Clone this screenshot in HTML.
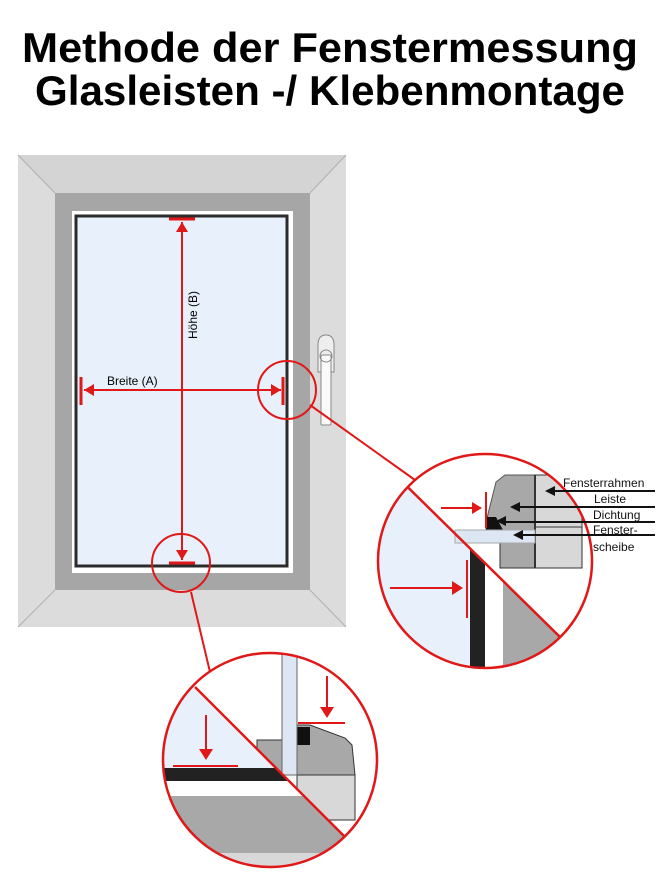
<!DOCTYPE html>
<html><head><meta charset="utf-8"><style>
html,body{margin:0;padding:0;background:#fff;}
svg{display:block;}
</style></head><body>
<svg width="661" height="889" viewBox="0 0 661 889" xmlns="http://www.w3.org/2000/svg" font-family="Liberation Sans, Arial, sans-serif">
<defs>
<clipPath id="cR"><circle cx="485" cy="561" r="107"/></clipPath>
<clipPath id="cB"><circle cx="270" cy="760" r="107"/></clipPath>
<clipPath id="rL"><polygon points="300,381 660,735 300,735"/></clipPath>
<clipPath id="rU"><polygon points="300,381 660,735 660,381"/></clipPath>
<clipPath id="bL"><polygon points="100,592 400,892 100,892"/></clipPath>
<clipPath id="bU"><polygon points="100,592 400,892 400,592"/></clipPath>
</defs>
<text x="330" y="62" text-anchor="middle" font-size="42" font-weight="bold" textLength="616" lengthAdjust="spacingAndGlyphs">Methode der Fenstermessung</text>
<text x="330" y="105" text-anchor="middle" font-size="42" font-weight="bold" textLength="590" lengthAdjust="spacingAndGlyphs">Glasleisten -/ Klebenmontage</text>

<!-- window frame -->
<rect x="18" y="155" width="328" height="472" fill="#dcdcdc"/>
<polygon points="18,155 55,193 310,193 346,155" fill="#d4d4d4"/>
<line x1="18" y1="155" x2="55" y2="193" stroke="#b0b0b0"/>
<line x1="346" y1="155" x2="310" y2="193" stroke="#b0b0b0"/>
<line x1="18" y1="627" x2="55" y2="590" stroke="#b0b0b0"/>
<line x1="346" y1="627" x2="310" y2="590" stroke="#b0b0b0"/>
<rect x="55" y="193" width="255" height="397" fill="#a6a6a6"/>
<rect x="72" y="211" width="221" height="362" fill="#fff"/>
<rect x="76" y="216" width="211" height="350" fill="#e8f1fb" stroke="#2b2b2b" stroke-width="3"/>
<!-- handle -->
<path d="M318,372 L318,345 Q318,335 326,335 Q334,335 334,345 L334,372 Z" fill="#eee" stroke="#888"/>
<rect x="321" y="355" width="10" height="70" rx="1" fill="#fafafa" stroke="#888"/>
<circle cx="326" cy="356" r="6" fill="none" stroke="#888"/>

<!-- measurement lines -->
<g stroke="#e01818" fill="#e01818">
<line x1="182" y1="222" x2="182" y2="560" stroke-width="2"/>
<line x1="169" y1="219" x2="195" y2="219" stroke-width="3"/>
<line x1="169" y1="563" x2="195" y2="563" stroke-width="3"/>
<polygon points="182,222 176,232 188,232" stroke="none"/>
<polygon points="182,560 176,550 188,550" stroke="none"/>
<line x1="84" y1="390" x2="281" y2="390" stroke-width="2"/>
<line x1="81" y1="377" x2="81" y2="405" stroke-width="3"/>
<line x1="283" y1="377" x2="283" y2="405" stroke-width="3"/>
<polygon points="84,390 94,384 94,396" stroke="none"/>
<polygon points="281,390 271,384 271,396" stroke="none"/>
<circle cx="287" cy="390" r="29" fill="none" stroke-width="2"/>
<circle cx="181" cy="563" r="29" fill="none" stroke-width="2"/>
<line x1="310" y1="405" x2="415" y2="480" stroke-width="2"/>
<line x1="191" y1="592" x2="210" y2="672" stroke-width="2"/>
</g>
<text x="107" y="385" font-size="12">Breite (A)</text>
<text transform="translate(197,315) rotate(-90)" text-anchor="middle" font-size="12">Höhe (B)</text>

<!-- right detail circle -->
<g clip-path="url(#cR)">
<rect x="370" y="450" width="240" height="230" fill="#fff"/>
<g clip-path="url(#rL)">
<rect x="360" y="440" width="110" height="250" fill="#e8f1fb"/>
<rect x="470" y="540" width="15" height="150" fill="#222"/>
<rect x="485" y="540" width="18" height="150" fill="#fff"/>
<rect x="503" y="540" width="110" height="150" fill="#a8a8a8"/>
</g>
<g clip-path="url(#rU)">
<rect x="535" y="475" width="47" height="93" fill="#d8d8d8" stroke="#333"/>
<rect x="500" y="543" width="35" height="25" fill="#a8a8a8" stroke="#333"/>
<polygon points="486,522 496,482 505,475 535,475 535,530 486,530" fill="#a8a8a8" stroke="#555"/>
<line x1="535" y1="475" x2="535" y2="568" stroke="#333" stroke-width="2"/>
<line x1="535" y1="527" x2="582" y2="527" stroke="#333"/>
<polygon points="486,517 496,517 503,530 486,530" fill="#111"/>
</g>
<rect x="455" y="530" width="80" height="13" fill="#dce7f3" stroke="#aaa"/>
<line x1="370" y1="450" x2="560" y2="637" stroke="#e01818" stroke-width="2.5"/>
</g>
<circle cx="485" cy="561" r="107" fill="none" stroke="#e01818" stroke-width="2.5"/>
<g stroke="#e01818" fill="#e01818">
<line x1="486" y1="492" x2="486" y2="528" stroke-width="2"/>
<line x1="441" y1="508" x2="474" y2="508" stroke-width="2"/>
<polygon points="482,508 472,502 472,514" stroke="none"/>
<line x1="467" y1="560" x2="467" y2="618" stroke-width="2"/>
<line x1="390" y1="588" x2="454" y2="588" stroke-width="2"/>
<polygon points="463,588 452,581 452,595" stroke="none"/>
</g>
<g stroke="#111" stroke-width="2" fill="#111">
<line x1="552" y1="491" x2="655" y2="491"/><polygon points="545,491 555,486 555,496" stroke="none"/>
<line x1="518" y1="507" x2="655" y2="507"/><polygon points="510,507 520,502 520,512" stroke="none"/>
<line x1="503" y1="522" x2="655" y2="522"/><polygon points="496,521 506,516 506,526" stroke="none"/>
<line x1="520" y1="535" x2="655" y2="535"/><polygon points="513,535 523,530 523,540" stroke="none"/>
</g>
<g font-size="12" fill="#111">
<text x="563" y="487">Fensterrahmen</text>
<text x="594" y="503">Leiste</text>
<text x="593" y="519">Dichtung</text>
<text x="593" y="534">Fenster-</text>
<text x="593" y="551">scheibe</text>
</g>

<!-- bottom detail circle -->
<g clip-path="url(#cB)">
<rect x="160" y="650" width="220" height="220" fill="#fff"/>
<g clip-path="url(#bL)">
<rect x="160" y="650" width="230" height="118" fill="#e8f1fb"/>
<rect x="160" y="768" width="230" height="13" fill="#222"/>
<rect x="160" y="781" width="230" height="15" fill="#fff"/>
<rect x="160" y="796" width="230" height="57" fill="#a8a8a8"/>
<rect x="160" y="853" width="230" height="20" fill="#d8d8d8"/>
</g>
<g clip-path="url(#bU)">
<polygon points="257,740 297,740 297,725 310,725 345,738 352,745 355,775 257,775" fill="#a8a8a8" stroke="#333"/>
<rect x="297" y="775" width="58" height="45" fill="#d8d8d8" stroke="#333"/>
<rect x="297" y="727" width="13" height="18" fill="#111"/>
<rect x="282" y="650" width="15" height="125" fill="#dce7f3" stroke="#666"/>
</g>
<line x1="195" y1="687" x2="345" y2="837" stroke="#e01818" stroke-width="2.5"/>
</g>
<circle cx="270" cy="760" r="107" fill="none" stroke="#e01818" stroke-width="2.5"/>
<g stroke="#e01818" fill="#e01818">
<line x1="173" y1="766" x2="238" y2="766" stroke-width="2"/>
<line x1="206" y1="715" x2="206" y2="750" stroke-width="2"/>
<polygon points="206,760 199,749 213,749" stroke="none"/>
<line x1="298" y1="723" x2="345" y2="723" stroke-width="2"/>
<line x1="327" y1="676" x2="327" y2="708" stroke-width="2"/>
<polygon points="327,718 320,707 334,707" stroke="none"/>
</g>
</svg>
</body></html>
